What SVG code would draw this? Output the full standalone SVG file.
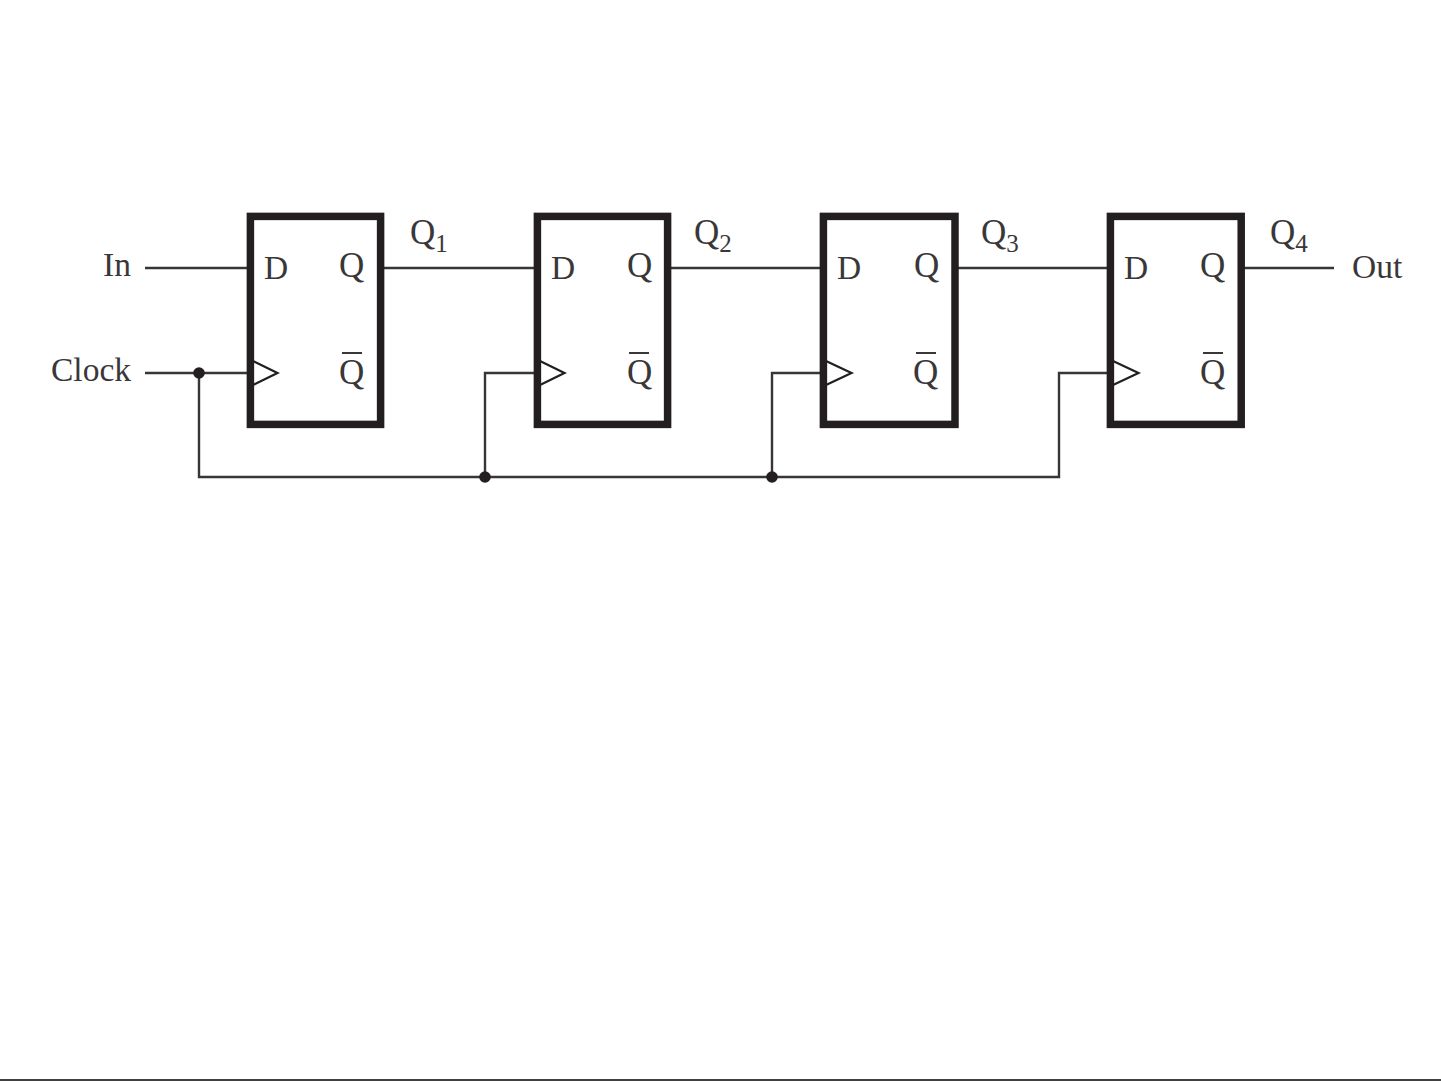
<svg xmlns="http://www.w3.org/2000/svg" width="1441" height="1081" viewBox="0 0 1441 1081">
<style>
.box{fill:#fff;stroke:#231f20;stroke-width:7.5}
.w{fill:none;stroke:#383536;stroke-width:2.4}
.clk{fill:none;stroke:#231f20;stroke-width:2.2}
.dot{fill:#231f20}
text{font-family:"Liberation Serif","Times New Roman",serif;font-size:35px;fill:#3a3738}
.lab{font-size:33.5px}
.sub{font-size:25px}
.bar{stroke:#3a3738;stroke-width:2;fill:none}
</style>
<rect width="1441" height="1081" fill="#fff"/>
<g id="connectors">
<path class="w" d="M145 268H250"/>
<path class="w" d="M384 268H537"/>
<path class="w" d="M671 268H823"/>
<path class="w" d="M958 268H1110"/>
<path class="w" d="M1244 268H1334"/>
<path class="w" d="M145 373H250"/>
<path class="w" d="M199 373V477H1059V373H1110"/>
<path class="w" d="M485 477V373H537"/>
<path class="w" d="M772 477V373H823"/>
<circle class="dot" cx="199" cy="373" r="5.8"/>
<circle class="dot" cx="485" cy="477" r="5.8"/>
<circle class="dot" cx="772" cy="477" r="5.8"/>
</g>
<g id="ff1">
<rect class="box" x="250.4" y="216.4" width="130.2" height="208"/>
<path class="clk" d="M253 361L277.500 373L253 385"/>
<text class="lab" x="264" y="279">D</text><text x="339" y="277">Q</text>
<text x="339" y="384">Q</text><path class="bar" d="M342 353H362"/>
</g>
<g id="ff2">
<rect class="box" x="537.400" y="216.4" width="130.2" height="208"/>
<path class="clk" d="M540 361L564.500 373L540 385"/>
<text class="lab" x="551" y="279">D</text><text x="627" y="277">Q</text>
<text x="627" y="384">Q</text><path class="bar" d="M629 353H649"/>
</g>
<g id="ff3">
<rect class="box" x="823.400" y="216.4" width="131.6" height="208"/>
<path class="clk" d="M826 361L851.500 373L826 385"/>
<text class="lab" x="837" y="279">D</text><text x="914" y="277">Q</text>
<text x="913" y="384">Q</text><path class="bar" d="M916 353H936"/>
</g>
<g id="ff4">
<rect class="box" x="1110.400" y="216.4" width="130.800" height="208"/>
<path class="clk" d="M1113 361L1138.500 373L1113 385"/>
<text class="lab" x="1124" y="279">D</text><text x="1200" y="277">Q</text>
<text x="1200" y="384">Q</text><path class="bar" d="M1203 353H1223"/>
</g>
<g id="labels">
<text class="lab" x="103" y="276">In</text>
<text class="lab" x="51" y="381">Clock</text>
<text class="lab" x="1352" y="278">Out</text>
<text x="410" y="244">Q<tspan class="sub" dy="8">1</tspan></text>
<text x="694" y="244">Q<tspan class="sub" dy="8">2</tspan></text>
<text x="981" y="244">Q<tspan class="sub" dy="8">3</tspan></text>
<text x="1270" y="244">Q<tspan class="sub" dy="8">4</tspan></text>
</g>
<path d="M0 1080H1441" stroke="#000" stroke-width="1.5" fill="none"/>
</svg>
